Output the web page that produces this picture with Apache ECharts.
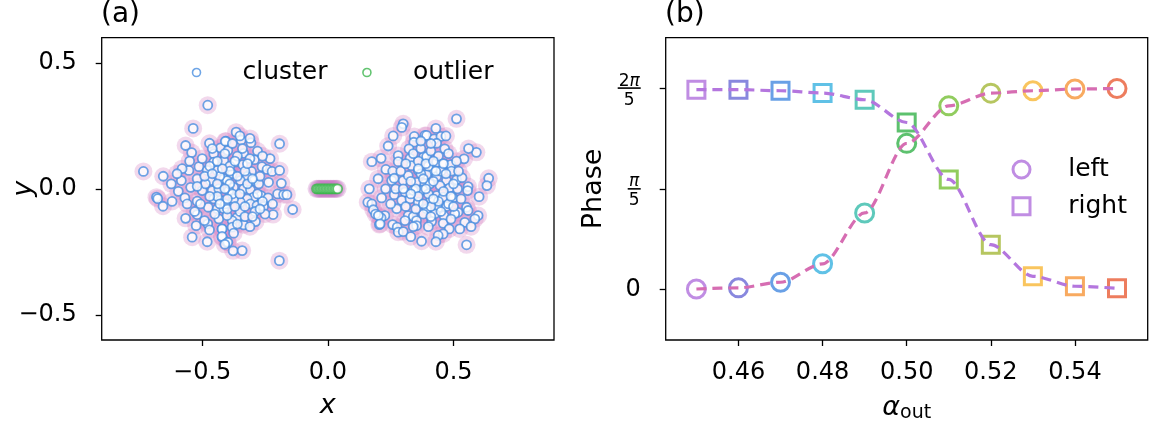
<!DOCTYPE html>
<html><head><meta charset="utf-8">
<script src="https://cdn.jsdelivr.net/npm/echarts@6.0.0/dist/echarts.min.js"></script>
<style>html,body{margin:0;padding:0;background:#fff}#c{width:1149px;height:426px}</style>
</head><body><div id="c"></div>
<script>
// ---------- panel (a) data ----------
const leftBlob = [
[-0.478,0.332],[-0.536,0.240],[-0.566,0.172],[-0.542,0.144],[-0.471,0.181],[-0.734,0.069],[-0.655,0.050],[-0.623,0.020],[-0.682,-0.033],[-0.677,-0.039],[-0.656,-0.069],[-0.595,-0.010],[-0.583,0.033],[-0.569,-0.036],[-0.553,0.073],[-0.546,0.006],[-0.513,0.088],[-0.520,0.040],[-0.500,-0.007],[-0.520,-0.049],[-0.566,-0.117],[-0.520,-0.102],[-0.524,-0.146],[-0.540,-0.192],[-0.478,-0.139],[-0.471,-0.163],[-0.491,-0.126],[-0.476,-0.073],[-0.480,0.073],[-0.454,0.139],[-0.427,0.163],[-0.405,0.189],[-0.454,0.106],[-0.414,0.112],[-0.440,0.073],[-0.467,0.033],[-0.487,0.020],[-0.460,-0.007],[-0.434,0.000],[-0.414,0.040],[-0.454,-0.040],[-0.427,-0.046],[-0.440,-0.079],[-0.414,-0.079],[-0.434,-0.119],[-0.421,-0.159],[-0.421,-0.192],[-0.401,-0.212],[-0.507,-0.060],
[-0.365,0.225],[-0.345,0.194],[-0.306,0.183],[-0.192,0.179],[-0.408,0.189],[-0.398,0.152],[-0.335,0.141],[-0.292,0.116],[-0.368,0.106],[-0.339,0.096],[-0.262,0.088],[-0.242,0.077],[-0.222,0.069],[-0.192,0.073],[-0.304,0.069],[-0.381,0.060],[-0.321,0.049],[-0.348,0.033],[-0.295,0.033],[-0.275,0.020],[-0.236,0.026],[-0.185,0.022],[-0.401,0.033],[-0.375,0.006],[-0.335,0.000],[-0.308,-0.004],[-0.394,-0.007],[-0.200,-0.020],[-0.176,-0.023],[-0.163,-0.023],[-0.266,-0.027],[-0.238,-0.036],[-0.295,-0.033],[-0.321,-0.040],[-0.348,-0.053],[-0.375,-0.040],[-0.308,-0.060],[-0.282,-0.066],[-0.256,-0.070],[-0.408,-0.060],[-0.140,-0.082],[-0.218,-0.102],[-0.288,-0.130],[-0.335,-0.143],[-0.361,-0.113],[-0.381,-0.126],[-0.401,-0.106],[-0.381,-0.152],[-0.375,-0.176],[-0.421,-0.159],[-0.421,-0.189],[-0.398,-0.212],[-0.377,-0.246],[-0.341,-0.245],[-0.193,-0.285],
[-0.43,0.05],[-0.39,0.09],[-0.36,0.13],[-0.41,0.14],[-0.44,0.02],[-0.38,-0.02],[-0.35,-0.09],[-0.32,0.02],[-0.31,0.12],[-0.27,0.05],[-0.26,-0.05],[-0.29,-0.09],[-0.33,-0.11],[-0.45,-0.10],[-0.47,0.09],[-0.50,0.12],[-0.49,0.05],[-0.52,0.01],[-0.44,-0.03],[-0.39,0.07],[-0.36,0.05],[-0.34,0.16],[-0.28,0.15],[-0.23,0.12],[-0.22,-0.06],[-0.25,-0.10],[-0.31,-0.15],[-0.40,-0.08],[-0.46,0.16],[-0.55,0.11],[-0.58,0.08],[-0.60,0.06],[-0.62,-0.05],[-0.56,-0.06],[-0.53,-0.09],[-0.35,0.21],[-0.31,0.20],[-0.41,-0.22],[-0.48,-0.21],[-0.26,0.13],
[-0.42,0.08],[-0.37,0.11],[-0.33,0.07],[-0.30,0.04],[-0.35,-0.02],[-0.40,-0.04],[-0.43,-0.06],[-0.46,0.06],[-0.39,0.02],[-0.33,-0.07],[-0.28,-0.02],[-0.37,-0.07],[-0.32,0.10],[-0.44,0.11],[-0.38,0.18],[-0.27,-0.08],[-0.30,-0.11],[-0.36,-0.14],[-0.47,-0.03],[-0.41,0.00]
];
const rightBlob = [
[0.300,0.258],[0.294,0.244],[0.344,0.208],[0.342,0.185],[0.386,0.212],[0.323,0.159],[0.175,0.108],[0.212,0.121],[0.280,0.132],[0.280,0.108],[0.327,0.121],[0.382,0.128],[0.231,0.077],[0.258,0.070],[0.333,0.092],[0.360,0.073],[0.165,0.000],[0.230,0.000],[0.254,0.033],[0.264,0.042],[0.300,0.033],[0.320,0.053],[0.353,0.026],[0.386,0.020],[0.214,-0.036],[0.264,-0.023],[0.307,-0.013],[0.340,-0.007],[0.379,-0.004],[0.159,-0.053],[0.175,-0.060],[0.181,-0.083],[0.294,-0.046],[0.327,-0.040],[0.360,-0.053],[0.274,-0.079],[0.393,-0.079],[0.227,-0.106],[0.212,-0.115],[0.320,-0.106],[0.340,-0.110],[0.307,-0.126],[0.353,-0.126],[0.205,-0.142],[0.258,-0.142],[0.276,-0.152],[0.353,-0.146],[0.280,-0.172],[0.373,-0.208],
[0.512,0.278],[0.393,0.212],[0.423,0.198],[0.450,0.208],[0.433,0.181],[0.465,0.159],[0.591,0.145],[0.542,0.119],[0.393,0.128],[0.433,0.106],[0.463,0.099],[0.489,0.096],[0.512,0.110],[0.419,0.073],[0.492,0.070],[0.393,0.057],[0.433,0.049],[0.472,0.033],[0.512,0.036],[0.534,0.044],[0.640,0.042],[0.633,0.013],[0.558,0.009],[0.406,0.020],[0.446,0.013],[0.485,0.004],[0.516,0.000],[0.556,-0.007],[0.433,-0.027],[0.459,-0.033],[0.498,-0.036],[0.602,-0.031],[0.410,-0.040],[0.439,-0.075],[0.472,-0.070],[0.518,-0.093],[0.552,-0.073],[0.558,-0.086],[0.426,-0.099],[0.462,-0.106],[0.505,-0.099],[0.598,-0.106],[0.585,-0.119],[0.413,-0.129],[0.459,-0.137],[0.545,-0.133],[0.483,-0.159],[0.525,-0.159],[0.459,-0.179],[0.439,-0.185],[0.552,-0.222],
[0.37,0.06],[0.40,0.09],[0.36,0.11],[0.34,0.14],[0.37,0.16],[0.41,0.15],[0.44,0.13],[0.45,0.07],[0.42,0.03],[0.38,0.04],[0.35,0.00],[0.36,-0.03],[0.40,-0.02],[0.44,-0.05],[0.48,-0.06],[0.41,-0.07],[0.38,-0.10],[0.35,-0.08],[0.31,-0.07],[0.29,0.07],[0.31,0.10],[0.27,0.00],[0.25,-0.06],[0.33,0.03],[0.47,0.06],[0.50,0.02],[0.53,-0.04],[0.49,-0.12],[0.40,-0.15],[0.30,-0.17],[0.24,0.17],[0.26,0.21],[0.43,0.24],[0.47,0.21],[0.56,0.16],[0.57,-0.15],[0.43,-0.21],[0.33,-0.19],[0.20,0.04],[0.19,-0.10],[0.201,-0.106],[0.208,-0.139],
[0.39,0.10],[0.42,0.11],[0.46,0.10],[0.39,0.00],[0.43,0.07],[0.46,-0.01],[0.42,-0.04],[0.38,-0.06],[0.45,-0.09],[0.49,-0.03],[0.36,0.08],[0.33,-0.02],[0.30,0.00],[0.41,0.18],[0.37,0.19],[0.48,0.14],[0.52,0.07],[0.50,-0.07],[0.34,-0.15],[0.41,-0.11]
];
const outlierX = [-0.045,-0.039,-0.033,-0.027,-0.021,-0.015,-0.009,-0.003,0.003,0.009,0.015,0.021,0.027,0.033,0.039];
const outlierY = [0,0,0,0,0,0,0,0,0,0,0,0,0,0,0];
const xTicksA = [-0.5, 0, 0.5];
const yTicksA = [-0.5, 0, 0.5];

// ---------- panel (b) data ----------
const alphaOut = [0.45,0.46,0.47,0.48,0.49,0.50,0.51,0.52,0.53,0.54,0.55];
const phaseLeft = [0.004,0.011,0.046,0.161,0.478,0.912,1.146,1.225,1.240,1.251,1.254];
const phaseRight = [1.247,1.247,1.240,1.226,1.184,1.042,0.687,0.280,0.083,0.021,0.008];
const xTicksB = [0.46,0.48,0.50,0.52,0.54];
const yTicksB = [0, Math.PI/5, 2*Math.PI/5];
const pointColors = ['#b070dc','#6a6ad6','#4488e0','#38b2e0','#36bcaa','#34b24a','#76bf36','#a4b838','#f8b636','#f69538','#e85c36'];

const FONT = 'DejaVu Sans';
const tickStyle = {color:'#000', width:1.3};
function fmtSigned(v, d){ const s = Math.abs(v).toFixed(d); return v < 0 ? '\u2212' + s : s; }
const SQUARE = 'path://M0,0L10,0L10,10L0,10Z';

const clusterPts = leftBlob.concat(rightBlob);
const outlierPts = outlierX.map((x,i) => [x, outlierY[i]]);
const gridStyle = {show:true, borderColor:'#000', borderWidth:1.3, backgroundColor:'rgba(0,0,0,0)', containLabel:false, outerBoundsMode:'none'};
const axisLineOff = {show:false, onZero:false};

const chart = echarts.init(document.getElementById('c'));
const option = {
  animation:false,
  backgroundColor:'#fff',
  title:[
    {text:'(a)', left:101, top:1, padding:0, textStyle:{fontFamily:FONT, fontSize:28, fontWeight:'normal', color:'#000'}},
    {text:'(b)', left:665, top:1, padding:0, textStyle:{fontFamily:FONT, fontSize:28, fontWeight:'normal', color:'#000'}}
  ],
  grid:[
    Object.assign({left:101.7, top:37.7, width:452.3, height:302.3}, gridStyle),
    Object.assign({left:665.7, top:37.7, width:482, height:302.3}, gridStyle)
  ],
  xAxis:[
    {type:'value', gridIndex:0, min:-0.9, max:0.9,
     name:'x', nameLocation:'middle', nameGap:52, nameMoveOverlap:false,
     nameTextStyle:{fontFamily:FONT, fontSize:27, fontStyle:'italic', color:'#000'},
     axisLine:axisLineOff, splitLine:{show:false},
     axisTick:{show:true, length:6, lineStyle:tickStyle, customValues:xTicksA},
     axisLabel:{customValues:xTicksA, margin:21, color:'#000', fontFamily:FONT, fontSize:24, formatter:v=>fmtSigned(v,1)}},
    {type:'value', gridIndex:1, min:0.4427, max:0.5573,
     name:'{a|α}{s|out}', nameLocation:'middle', nameGap:52, nameMoveOverlap:false,
     nameTextStyle:{fontFamily:FONT, fontSize:27, color:'#000',
       rich:{a:{fontFamily:FONT, fontSize:27, fontStyle:'italic', color:'#000'},
             s:{fontFamily:FONT, fontSize:19, color:'#000', padding:[12,0,0,0]}}},
     axisLine:axisLineOff, splitLine:{show:false},
     axisTick:{show:true, length:6, lineStyle:tickStyle, customValues:xTicksB},
     axisLabel:{customValues:xTicksB, margin:21, color:'#000', fontFamily:FONT, fontSize:24, formatter:v=>v.toFixed(2)}}
  ],
  yAxis:[
    {type:'value', gridIndex:0, min:-0.6, max:0.6,
     name:'y', nameLocation:'middle', nameGap:64, nameMoveOverlap:false,
     nameTextStyle:{fontFamily:FONT, fontSize:27, fontStyle:'italic', color:'#000'},
     axisLine:axisLineOff, splitLine:{show:false},
     axisTick:{show:true, length:6, lineStyle:tickStyle, customValues:yTicksA},
     axisLabel:{customValues:yTicksA, margin:25, color:'#000', fontFamily:FONT, fontSize:24, formatter:v=>fmtSigned(v,1)}},
    {type:'value', gridIndex:1, min:-Math.PI/10, max:Math.PI/2,
     name:'Phase', nameLocation:'middle', nameGap:58, nameMoveOverlap:false,
     nameTextStyle:{fontFamily:FONT, fontSize:27, color:'#000'},
     axisLine:axisLineOff, splitLine:{show:false},
     axisTick:{show:true, length:6, lineStyle:tickStyle, customValues:yTicksB},
     axisLabel:{customValues:yTicksB, margin:25, color:'#000', fontFamily:FONT, fontSize:24,
       formatter:v=>{
         const k = Math.round(v/(Math.PI/5));
         if (k===0) return '0';
         if (k===1) return '{n1|π}\n{b1|}\n{d1|5}';
         return '{n2|2}{p2|π}\n{b2|}\n{d2|5}';
       },
       rich:{
         n1:{fontFamily:FONT, fontSize:17, fontStyle:'italic', color:'#000', width:13, align:'center', lineHeight:18, padding:[10,0,0,0]},
         b1:{width:13, height:1.6, lineHeight:6, backgroundColor:'#000'},
         d1:{fontFamily:FONT, fontSize:17, color:'#000', width:13, align:'center', lineHeight:18},
         n2:{fontFamily:FONT, fontSize:17, color:'#000', lineHeight:18, padding:[10,0,0,0]},
         p2:{fontFamily:FONT, fontSize:17, fontStyle:'italic', color:'#000', lineHeight:18, padding:[10,1,0,0]},
         b2:{width:23, height:1.6, lineHeight:6, backgroundColor:'#000'},
         d2:{fontFamily:FONT, fontSize:17, color:'#000', width:23, align:'center', lineHeight:18}
       }}}
  ],
  legend:[
    {data:[
       {name:'cluster', icon:'circle', itemStyle:{color:'#fff', borderColor:'#4a8fe0', borderWidth:1.6}},
       {name:'outlier', icon:'circle', itemStyle:{color:'#fff', borderColor:'#3cb54e', borderWidth:1.6}}],
     left:191.7, top:60, orient:'horizontal', itemWidth:82, itemHeight:8, itemGap:34.6, padding:0,
     selectedMode:false,
     textStyle:{fontFamily:FONT, fontSize:25, color:'#000'}},
    {data:[
       {name:'left', icon:'circle', itemStyle:{color:'rgba(255,255,255,0)', borderColor:'#b070dc', borderWidth:3}},
       {name:'right', icon:SQUARE, itemStyle:{color:'rgba(255,255,255,0)', borderColor:'#b070dc', borderWidth:3}}],
     left:1011.5, top:157, orient:'vertical', itemWidth:83.4, itemHeight:17, itemGap:11.7, padding:0,
     selectedMode:false, symbolKeepAspect:true,
     textStyle:{fontFamily:FONT, fontSize:25, color:'#000'}}
  ],
  series:[
    {name:'halo', type:'scatter', xAxisIndex:0, yAxisIndex:0, data:clusterPts, symbolSize:18, silent:true, z:1,
     itemStyle:{color:'rgba(215,140,200,0.42)'}},
    {name:'halo2', type:'scatter', xAxisIndex:0, yAxisIndex:0, data:outlierPts, symbolSize:18, silent:true, z:1,
     itemStyle:{color:'rgba(200,120,195,0.4)'}},
    {name:'cluster', type:'scatter', xAxisIndex:0, yAxisIndex:0, data:clusterPts, symbol:'circle', symbolSize:9, z:2,
     itemStyle:{color:'#fff', borderColor:'#4a8fe0', borderWidth:1.8}},
    {name:'outlier', type:'scatter', xAxisIndex:0, yAxisIndex:0, data:outlierPts, symbol:'circle', symbolSize:9, z:2,
     itemStyle:{color:'#fff', borderColor:'#3cb54e', borderWidth:1.8}},
    {name:'left', type:'scatter', xAxisIndex:1, yAxisIndex:1, symbol:'circle', symbolSize:18, z:2,
     itemStyle:{color:'rgba(255,255,255,0)', borderColor:'#b070dc', borderWidth:3},
     data:alphaOut.map((x,i)=>({value:[x, phaseLeft[i]], itemStyle:{borderColor:pointColors[i]}}))},
    {name:'right', type:'scatter', xAxisIndex:1, yAxisIndex:1, symbol:'rect', symbolSize:17, z:2,
     itemStyle:{color:'rgba(255,255,255,0)', borderColor:'#b070dc', borderWidth:3},
     data:alphaOut.map((x,i)=>({value:[x, phaseRight[i]], itemStyle:{borderColor:pointColors[i]}}))},
    {name:'leftLine', type:'line', xAxisIndex:1, yAxisIndex:1, showSymbol:false, symbol:'none', z:3, silent:true,
     smooth:0.3, smoothMonotone:'x',
     lineStyle:{color:'#d66db2', width:3.2, type:[10,6]},
     data:alphaOut.map((x,i)=>[x, phaseLeft[i]])},
    {name:'rightLine', type:'line', xAxisIndex:1, yAxisIndex:1, showSymbol:false, symbol:'none', z:3, silent:true,
     smooth:0.3, smoothMonotone:'x',
     lineStyle:{color:'#b476de', width:3.2, type:[10,6]},
     data:alphaOut.map((x,i)=>[x, phaseRight[i]])}
  ]
};
chart.setOption(option);
</script>
</body></html>
